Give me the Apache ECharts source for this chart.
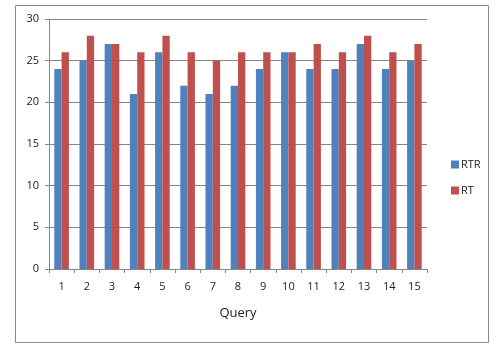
<!DOCTYPE html>
<html>
<head>
<meta charset="utf-8">
<script src="https://cdn.jsdelivr.net/npm/echarts@6/dist/echarts.min.js"></script>
<style>
  html, body { margin: 0; padding: 0; background: #fff; }
  #chart { width: 497px; height: 346px; }
</style>
</head>
<body>
<div id="chart"></div>
<script>
    var queries = ['1', '2', '3', '4', '5', '6', '7', '8', '9', '10', '11', '12', '13', '14', '15'];
    var rtrValues = [24, 25, 27, 21, 26, 22, 21, 22, 24, 26, 24, 24, 27, 24, 25];
    var rtValues = [26, 28, 27, 26, 28, 26, 25, 26, 26, 26, 27, 26, 28, 26, 27];

    var font = 'Open Sans';
    var chart = echarts.init(document.getElementById('chart'));
    chart.setOption({
        animation: false,
        textStyle: { fontFamily: font },
        graphic: [{
            type: 'rect',
            shape: { x: 15.5, y: 5.5, width: 473, height: 337 },
            style: { fill: 'none', stroke: '#8c8c8c', lineWidth: 1 }
        }],
        grid: { left: 49, right: 70, top: 19, bottom: 77 },
        legend: {
            orient: 'vertical',
            left: 446,
            top: 154,
            itemWidth: 8,
            itemHeight: 8,
            itemGap: 15,
            icon: 'rect',
            textStyle: { fontFamily: font, fontSize: 11, color: '#222', padding: [0, 0, 0, -3] },
            data: ['RTR', 'RT']
        },
        xAxis: {
            type: 'category',
            data: queries,
            name: 'Query',
            nameLocation: 'middle',
            nameGap: 38,
            nameTextStyle: { fontFamily: font, fontSize: 13, color: '#222' },
            axisLine: { lineStyle: { color: '#868686' } },
            axisTick: { show: true, length: 4, lineStyle: { color: '#868686' } },
            axisLabel: { fontFamily: font, fontSize: 11, color: '#222', margin: 12 }
        },
        yAxis: {
            type: 'value',
            min: 0,
            max: 30,
            interval: 5,
            axisLine: { show: true, lineStyle: { color: '#868686' } },
            axisTick: { show: true, length: 4, lineStyle: { color: '#868686' } },
            axisLabel: { fontFamily: font, fontSize: 11, color: '#222', margin: 10 },
            splitLine: { lineStyle: { color: '#868686' } }
        },
        series: [{
            name: 'RTR',
            type: 'bar',
            data: rtrValues,
            barGap: '0%',
            barCategoryGap: '42%',
            itemStyle: { color: '#4f81bd' }
        }, {
            name: 'RT',
            type: 'bar',
            data: rtValues,
            itemStyle: { color: '#c0504d' }
        }]
    });
</script>
</body>
</html>
